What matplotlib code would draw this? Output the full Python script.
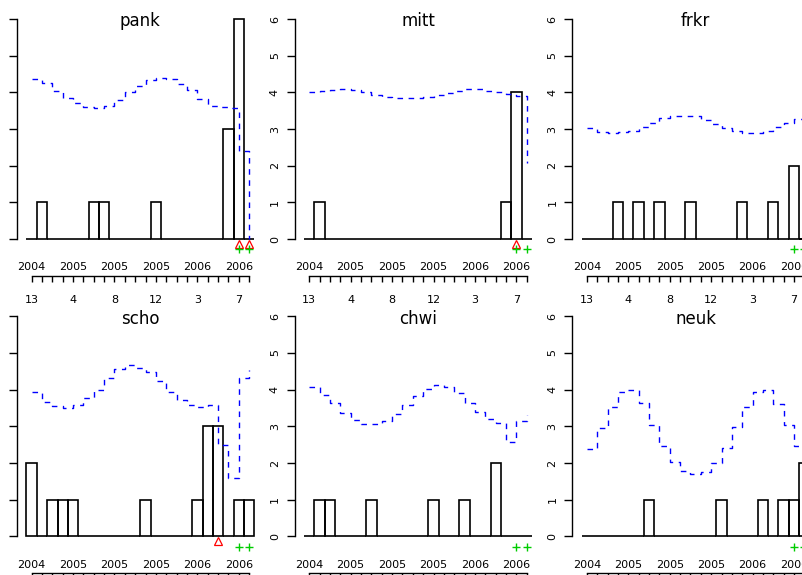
import matplotlib
matplotlib.use("Agg")
import matplotlib.pyplot as plt

# ---------------- data ----------------
time_idx = list(range(1, 23))
major_pos = [1, 5, 9, 13, 17, 21]
year_labels = ["2004", "2005", "2005", "2005", "2006", "2006"]
period_labels = ["13", "4", "8", "12", "3", "7"]

names = ["pank", "mitt", "frkr", "scho", "chwi", "neuk"]

obs_pank = [0, 1, 0, 0, 0, 0, 1, 1, 0, 0, 0, 0, 1, 0, 0, 0, 0, 0, 0, 3, 6, 0]
obs_mitt = [0, 1, 0, 0, 0, 0, 0, 0, 0, 0, 0, 0, 0, 0, 0, 0, 0, 0, 0, 1, 4, 0]
obs_frkr = [0, 0, 0, 1, 0, 1, 0, 1, 0, 0, 1, 0, 0, 0, 0, 1, 0, 0, 1, 0, 2, 0]
obs_scho = [2, 0, 1, 1, 1, 0, 0, 0, 0, 0, 0, 1, 0, 0, 0, 0, 1, 3, 3, 0, 1, 1]
obs_chwi = [0, 1, 1, 0, 0, 0, 1, 0, 0, 0, 0, 0, 1, 0, 0, 1, 0, 0, 2, 0, 0, 0]
obs_neuk = [0, 0, 0, 0, 0, 0, 1, 0, 0, 0, 0, 0, 0, 1, 0, 0, 0, 1, 0, 1, 1, 2]

ub_pank = [4.36, 4.25, 4.03, 3.85, 3.70, 3.59, 3.58, 3.64, 3.80, 4.00, 4.18, 4.33,
           4.38, 4.36, 4.24, 4.07, 3.83, 3.62, 3.59, 3.57, 2.41, 0.0]
ub_mitt = [4.01, 4.05, 4.07, 4.08, 4.06, 4.00, 3.93, 3.88, 3.86, 3.85, 3.86, 3.88,
           3.92, 3.98, 4.04, 4.08, 4.08, 4.05, 4.00, 3.96, 3.89, 2.07]
ub_frkr = [3.03, 2.93, 2.90, 2.91, 2.95, 3.05, 3.17, 3.29, 3.35, 3.37, 3.35, 3.26,
           3.14, 3.03, 2.94, 2.90, 2.90, 2.96, 3.06, 3.17, 3.28, 3.35]
ub_scho = [3.94, 3.67, 3.55, 3.51, 3.58, 3.76, 3.99, 4.31, 4.55, 4.67, 4.60, 4.49,
           4.24, 3.94, 3.72, 3.58, 3.52, 3.58, 2.49, 1.59, 4.31, 4.53]
ub_chwi = [4.06, 3.85, 3.63, 3.35, 3.17, 3.06, 3.06, 3.15, 3.34, 3.58, 3.82, 4.03,
           4.12, 4.08, 3.90, 3.63, 3.40, 3.19, 3.08, 2.56, 3.15, 3.30]
ub_neuk = [2.39, 2.95, 3.53, 3.94, 3.99, 3.63, 3.04, 2.47, 2.04, 1.77, 1.69, 1.75,
           2.00, 2.40, 2.97, 3.53, 3.94, 3.99, 3.61, 3.04, 2.47, 2.04]

alarms_pank = [21, 22]
alarms_mitt = [21]
alarms_frkr = []
alarms_scho = [19]
alarms_chwi = []
alarms_neuk = []

marks_pank = [21, 22]
marks_mitt = [21, 22]
marks_frkr = [21, 22]
marks_scho = [21, 22]
marks_chwi = [21, 22]
marks_neuk = [21, 22]

panels = [
    ("pank", obs_pank, ub_pank, alarms_pank, marks_pank),
    ("mitt", obs_mitt, ub_mitt, alarms_mitt, marks_mitt),
    ("frkr", obs_frkr, ub_frkr, alarms_frkr, marks_frkr),
    ("scho", obs_scho, ub_scho, alarms_scho, marks_scho),
    ("chwi", obs_chwi, ub_chwi, alarms_chwi, marks_chwi),
    ("neuk", obs_neuk, ub_neuk, alarms_neuk, marks_neuk),
]

# ---------------- layout ----------------
W, H = 803, 575
fig = plt.figure(figsize=(W / 100, H / 100), dpi=100)
fig.patch.set_facecolor("white")

col_left = [17.3, 294.9, 572.5]
row_top = [10.2, 307.4]
ax_w, ax_h = 246.2, 237.8
XLIM = (-0.38, 23.38)
YLIM = (-0.24, 6.24)
axis_y = -1.0
axis_frac = (axis_y - YLIM[0]) / (YLIM[1] - YLIM[0])

for k, (name, obs, ub, alarms, marks) in enumerate(panels):
    r, c = divmod(k, 3)
    ax = fig.add_axes([col_left[c] / W, 1 - (row_top[r] + ax_h) / H, ax_w / W, ax_h / H])
    ax.patch.set_visible(False)
    ax.set_xlim(*XLIM)
    ax.set_ylim(*YLIM)

    ax.bar(time_idx, obs, width=1.0, fill=False, edgecolor="black", linewidth=1.2)
    ax.step(time_idx, ub, where="post", color="blue", linestyle=(0, (4.0, 4.0)), linewidth=1.0)
    if alarms:
        ax.plot(alarms, [-0.12] * len(alarms), linestyle="none", marker="^", ms=5.5,
                mfc="none", mec="red", mew=0.9, clip_on=False)
    if marks:
        ax.plot(marks, [-0.28] * len(marks), linestyle="none", marker="+", ms=6.0,
                color="#00CC00", mew=1.0, clip_on=False)

    # spines
    for s in ("top", "right"):
        ax.spines[s].set_visible(False)
    ax.spines["left"].set_bounds(0, 6)
    ax.spines["left"].set_linewidth(1.0)
    ax.spines["bottom"].set_position(("data", axis_y))
    ax.spines["bottom"].set_bounds(1, 22)
    ax.spines["bottom"].set_linewidth(1.0)

    ax.set_yticks(range(7))
    ax.set_yticklabels([str(v) for v in range(7)])
    ax.tick_params(axis="y", direction="out", length=5.8, width=1.0, pad=5,
                   labelsize=8, labelrotation=90)
    for lab in ax.get_yticklabels():
        lab.set_verticalalignment("center")

    ax.set_xticks(major_pos)
    ax.set_xticklabels(period_labels)
    ax.set_xticks(time_idx, minor=True)
    ax.tick_params(axis="x", which="both", direction="out", length=4.3, width=1.0,
                   labelsize=8, pad=9.5)

    sec = ax.secondary_xaxis(axis_frac)
    sec.set_alignment("top")
    sec.spines["top"].set_visible(False)
    sec.spines["bottom"].set_visible(False)
    sec.set_xticks(major_pos)
    sec.set_xticklabels(year_labels)
    sec.tick_params(axis="x", length=0, pad=2.5, labelsize=8)

    ax.text(0.5, 0.932, name, transform=ax.transAxes, ha="center", va="baseline",
            fontsize=12)

fig.savefig("out.png", dpi=100)
